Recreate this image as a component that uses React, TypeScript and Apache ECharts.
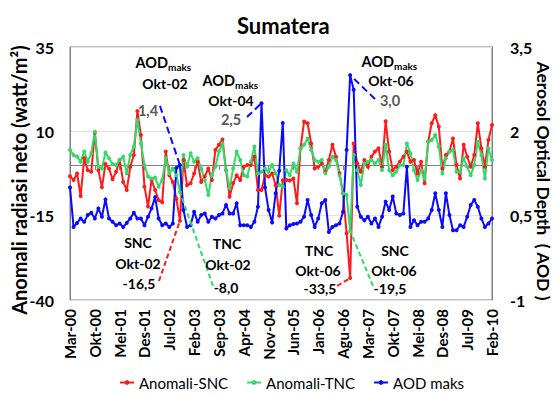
import React, { useEffect, useRef } from 'react';
import * as echarts from 'echarts';

const MONTHS = ['Jan', 'Feb', 'Mar', 'Apr', 'Mei', 'Jun', 'Jul', 'Agu', 'Sep', 'Okt', 'Nov', 'Des'];
const START_YEAR = 2000;
const START_MONTH = 2;
const N_MONTHS = 120;
const categories = Array.from({ length: N_MONTHS }, (_, i) => {
  const m = (START_MONTH + i) % 12;
  const y = START_YEAR + Math.floor((START_MONTH + i) / 12);
  return `${MONTHS[m]}-${String(y % 100).padStart(2, '0')}`;
});

// Anomali-SNC (watt/m2)
const snc = [
  -3.3, -4.4, -2.5, -9.2, 2, -1.5, -2, 9.6, -1.5, -6.6,
  0.3, -1, -4.2, -2, 1.5, -5, -7.4, -0.5, 3, 16,
  8.9, -6.4, -12.3, -4.4, -7.4, -10.4, -11, 4, -3, -5,
  -10, -16.5, 1.5, -6, -5.4, -2.5, 1, -5, -3.4, -1,
  -4.4, 4.5, 6, 7.6, -1.5, -9.4, -5.4, -3, -4.4, -0.5,
  0, 0, 2.5, -7.4, -7.4, -3, -3.4, -2.5, -6, -15,
  -4.5, -4.4, -4.6, -4, -11.3, 5, 12.9, 12.4, 6.4, -1,
  -0.5, 0.5, -2, 1.5, 6, 2.5, -2.4, -8.4, -20.2, -33.5,
  6.4, 0.5, -2, 1.5, -0.5, 2.5, 4, 5, -0.5, 13,
  4, -1.5, -0.5, 1, 2.5, 4, 1, 1.5, -2.5, 1,
  -5.4, 6.9, 12.4, 14.8, 11.4, -1, 3, 4, 7.9, 0,
  -4, 6, 2.5, -0.5, 3, 12.4, 5, -0.5, 7.4, 11.9,
];

// Anomali-TNC (watt/m2)
const tnc = [
  4.5, 3, 2.5, 1, 4, 1, 3.5, 9.9, -0.5, -1,
  3.7, 2, 0.3, 0, 1.5, 2.5, -2.5, 3, 5.5, 13.4,
  6.4, 0, -3.4, -4, -3.7, -6.4, -4.4, 2, -2.5, -1,
  -3, -8, 3, -0.5, 3.5, 1, 2, -1, -4.4, -8.9,
  -3, -0.5, 4, 6.4, -1.5, -6.9, -1, 4, 1.5, -3,
  -3.4, 1, 5.5, -2.5, -2, -1, -2, 0, -2.5, -5.9,
  -6.4, -1.5, -3, 0.5, -2, 5, 6, 7.9, 4.5, 1.5,
  1, 1.5, -2.4, -0.5, 2.5, 1.5, -3, -8.4, -8.9, -19.5,
  3, -1.5, -5.9, 0.5, 1, 1.5, 0.5, 1.5, -1.5, 6,
  -1.5, -3, -2, 0, 0, 6.4, 3.5, -1.5, -4.4, -1.5,
  -4, 6.9, 7.4, 8.9, 5.5, -2.5, 2, 4, 4.5, -2,
  -2, 2, -0.5, -3, 0, 6.9, 3, -4, 5, 1.5,
];

// AOD maks
const aod = [
  1.0, 0.3, 0.37, 0.45, 0.39, 0.51, 0.55, 0.45, 0.63, 0.48,
  0.79, 0.45, 0.39, 0.33, 0.36, 0.3, 0.37, 0.45, 0.55, 0.45,
  0.45, 0.33, 0.48, 0.63, 0.83, 0.45, 0.33, 0.36, 0.3, 0.36,
  1.35, 1.4, 0.6, 0.3, 0.33, 0.57, 0.39, 0.51, 0.54, 0.39,
  0.48, 0.45, 0.51, 0.54, 0.69, 0.54, 0.54, 0.72, 0.33, 0.33,
  0.33, 0.3, 0.39, 0.66, 2.5, 1.0, 0.6, 0.38, 0.9, 1.3,
  2.15, 0.27, 0.33, 0.35, 0.36, 0.39, 0.48, 0.78, 0.51, 0.3,
  0.45, 0.72, 0.78, 0.21, 0.3, 0.33, 0.36, 0.57, 1.67, 3.0,
  2.74, 0.66, 0.48, 0.42, 0.48, 0.36, 0.45, 0.3, 0.48, 0.75,
  0.6, 0.84, 0.54, 0.51, 0.54, 1.37, 0.3, 0.42, 0.33, 0.39,
  0.39, 0.45, 0.6, 0.9, 0.6, 0.3, 0.9, 0.51, 0.24, 0.24,
  0.33, 0.3, 0.48, 0.69, 0.78, 0.66, 0.45, 0.3, 0.36, 0.45,
];

const leftTicks = { min: -40, max: 35, interval: 25 };
const rightTicks = { min: -1, max: 3.5, interval: 1.5 };

const FONT = 'Lato, "Open Sans", sans-serif';
const RED = '#ff1a1a';
const GREEN = '#33d96a';
const BLUE = '#0a0aff';

export default function App() {
  const ref = useRef<HTMLDivElement>(null);

  useEffect(() => {
    if (!ref.current) return;
    const chart = echarts.init(ref.current, undefined, { renderer: 'svg' });
    const axisGrey = '#808080';
    const option: any = {
      animation: false,
      backgroundColor: '#ffffff',
      title: {
        text: 'Sumatera',
        left: 232,
        top: 9,
        textStyle: { fontFamily: FONT, fontWeight: 'bold', fontSize: 22, color: '#000' },
      },
      grid: {
        left: 70, right: 62, top: 47, bottom: 94,
        show: true, borderColor: axisGrey, borderWidth: 1,
      },
      legend: {
        top: 370,
        left: 114,
        itemWidth: 14,
        itemHeight: 6,
        itemGap: 18,
        textStyle: { fontFamily: FONT, fontSize: 15, color: '#000' },
        data: ['Anomali-SNC', 'Anomali-TNC', 'AOD maks'],
      },
      xAxis: {
        type: 'category',
        data: categories,
        boundaryGap: false,
        axisLine: { lineStyle: { color: axisGrey } },
        axisTick: { interval: 6, length: 5, lineStyle: { color: axisGrey } },
        axisLabel: {
          interval: 6, rotate: 90, margin: 9,
          fontFamily: FONT, fontWeight: 'bold', fontSize: 15, color: '#000',
        },
        splitLine: { show: false },
      },
      yAxis: [
        {
          type: 'value',
          ...leftTicks,
          axisLine: { show: true, lineStyle: { color: axisGrey } },
          axisTick: { show: false },
          axisLabel: { fontFamily: FONT, fontWeight: 'bold', fontSize: 16, color: '#000', margin: 16 },
          splitLine: { show: true, lineStyle: { color: '#e3e3e3' } },
        },
        {
          type: 'value',
          position: 'right',
          ...rightTicks,
          axisLine: { show: true, lineStyle: { color: axisGrey } },
          axisTick: { show: false },
          axisLabel: {
            fontFamily: FONT, fontWeight: 'bold', fontSize: 16, color: '#000', margin: 18,
            formatter: (v: number) => String(v).replace('.', ','),
          },
          splitLine: { show: false },
        },
      ],
      series: [
        {
          name: 'Anomali-SNC', type: 'line', data: snc, yAxisIndex: 0,
          symbol: 'circle', symbolSize: 4, showAllSymbol: true,
          itemStyle: { color: RED }, lineStyle: { color: RED, width: 2 },
        },
        {
          name: 'Anomali-TNC', type: 'line', data: tnc, yAxisIndex: 0,
          symbol: 'circle', symbolSize: 4, showAllSymbol: true,
          itemStyle: { color: GREEN }, lineStyle: { color: GREEN, width: 2 },
        },
        {
          name: 'AOD maks', type: 'line', data: aod, yAxisIndex: 1,
          symbol: 'circle', symbolSize: 4, showAllSymbol: true,
          itemStyle: { color: BLUE }, lineStyle: { color: BLUE, width: 2 },
        },
      ],
    };
    chart.setOption(option);

    const txt = (text: string, x: number, y: number, size = 14, fill = '#000', align = 'center', weight = 'bold', rotation = 0) => ({
      type: 'text', x, y, rotation, z: 100,
      style: { text, font: `${weight} ${size}px ${FONT}`, fill, align, verticalAlign: 'middle' },
    });
    const px = (idx: number, val: number, yAxisIndex: number) =>
      chart.convertToPixel({ xAxisIndex: 0, yAxisIndex }, [categories[idx], val]) as number[];
    const dash = (x1: number, y1: number, p: number[], color: string, lineDash: number[]) => ({
      type: 'line', z: 90,
      shape: { x1, y1, x2: p[0], y2: p[1] },
      style: { stroke: color, lineWidth: 2, lineDash },
    });

    const iOkt02 = categories.indexOf('Okt-02');
    const iOkt06 = categories.indexOf('Okt-06');
    const iPeak04 = 54;

    const graphic: any[] = [
      // axis names
      txt('Anomali radiasi neto (watt/m²)', 19, 180, 20, '#000', 'center', 'bold', Math.PI / 2),
      txt('Aerosol Optical Depth  ( AOD )', 543, 181, 17.5, '#000', 'center', 'bold', -Math.PI / 2),
      // AOD Okt-02
      txt('AOD', 168, 62, 14.5, '#000', 'right'),
      txt('maks', 168, 67, 10, '#000', 'left'),
      txt('Okt-02', 165, 83),
      txt('1,4', 148, 110, 14.5, '#595959'),
      // AOD Okt-04
      txt('AOD', 235, 80, 14.5, '#000', 'right'),
      txt('maks', 235, 85, 10, '#000', 'left'),
      txt('Okt-04', 231, 100),
      txt('2,5', 231, 119, 14.5, '#595959'),
      // AOD Okt-06
      txt('AOD', 394, 61, 14.5, '#000', 'right'),
      txt('maks', 394, 66, 10, '#000', 'left'),
      txt('Okt-06', 391, 80),
      txt('3,0', 390, 100, 14.5, '#595959'),
      // SNC / TNC Okt-02
      txt('SNC', 138, 242),
      txt('Okt-02', 138, 263),
      txt('-16,5', 139, 283),
      txt('TNC', 227, 243),
      txt('Okt-02', 228, 264),
      txt('-8,0', 226, 287),
      // TNC / SNC Okt-06
      txt('TNC', 319, 250),
      txt('Okt-06', 318, 270),
      txt('-33,5', 320, 288),
      txt('SNC', 395, 250),
      txt('Okt-06', 394, 270),
      txt('-19,5', 390, 288),
      // dashed leader lines
      dash(160, 106, px(iOkt02, aod[iOkt02], 1), BLUE, [7, 4]),
      dash(247, 117, px(iPeak04, aod[iPeak04], 1), BLUE, [7, 4]),
      dash(375, 99, px(iOkt06, aod[iOkt06], 1), BLUE, [7, 4]),
      dash(159, 281, px(iOkt02, snc[iOkt02], 0), RED, [5, 3]),
      dash(213, 286, px(iOkt02, tnc[iOkt02], 0), GREEN, [5, 3]),
      dash(337, 286, px(iOkt06, snc[iOkt06], 0), RED, [5, 3]),
      dash(373, 286, px(iOkt06, tnc[iOkt06], 0), GREEN, [5, 3]),
    ];
    chart.setOption({ graphic });

    return () => chart.dispose();
  }, []);

  return (
    <div
      ref={ref}
      style={{ position: 'fixed', left: 0, top: 0, width: 554, height: 394, background: '#fff' }}
    />
  );
}
